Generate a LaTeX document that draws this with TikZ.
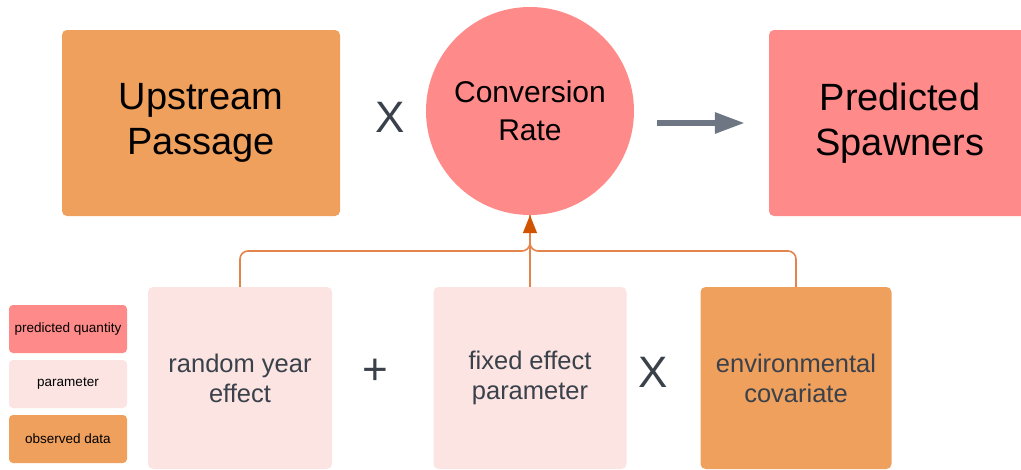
\documentclass[tikz,border=0pt]{standalone}
\usepackage{fontspec}
\setmainfont{Liberation Sans}
\usepackage{xcolor}
\usetikzlibrary{arrows.meta, positioning}

\definecolor{predpink}{HTML}{FF8A8A}
\definecolor{parampink}{HTML}{FBE4E2}
\definecolor{obsorange}{HTML}{EFA05D}
\definecolor{slategray}{HTML}{6E7583}
\definecolor{inktext}{HTML}{3A414A}
\definecolor{linkorange}{HTML}{E3844C}
\definecolor{tiporange}{HTML}{CF5300}

\begin{document}
\begin{tikzpicture}[
        x=1pt, y=-1pt, % pixel-like units, y grows downwards
        >=Stealth,
        box/.style={rectangle, rounded corners=5pt, inner sep=0pt, align=center},
        bigbox/.style={box, minimum width=#1, minimum height=186pt,
            font=\fontsize{38}{45}\selectfont},
        lowbox/.style={box, minimum width=#1, minimum height=182pt,
            text=inktext, font=\fontsize{25.5}{30}\selectfont},
        legbox/.style={box, minimum width=118pt, minimum height=48pt,
            rounded corners=4pt, font=\fontsize{13.5}{16}\selectfont},
        opsign/.style={inner sep=0pt, text=inktext, font=\fontsize{44}{44}\selectfont},
        link/.style={linkorange, line width=1.6pt},
    ]

    % --- FIGURE PARAMETERS ---
    \pgfmathsetmacro{\toprow}{123}
    \pgfmathsetmacro{\lowrow}{378}
    \pgfmathsetmacro{\busrow}{251}

    \clip (0,0) rectangle (1021,469);

    % Top row: passage x conversion -> spawners
    \node[bigbox=278pt, fill=obsorange] (upstream) at (201,\toprow)
        {Upstream\\Passage};
    \node[opsign] (timestop) at (390,117) {X};
    \node[circle, fill=predpink, minimum size=208pt, inner sep=0pt, align=center,
        font=\fontsize{30}{38}\selectfont] (convrate) at (530,111)
        {Conversion\\Rate};
    \node[bigbox=262pt, fill=predpink] (spawners) at (900,\toprow)
        {Predicted\\Spawners};

    \draw[slategray, line width=6pt, -{Triangle[length=30pt,width=20pt]},
        shorten <=23pt, shorten >=24pt]
        (convrate.east |- spawners.west) -- (spawners.west);

    % Bottom row: linear predictor on the conversion rate
    \node[lowbox=184pt, fill=parampink] (yeareff) at (240,\lowrow)
        {random year\\effect};
    \node[opsign] (plussign) at (375,372) {+};
    \node[lowbox=193pt, fill=parampink] (fixedeff) at (530,\lowrow)
        {fixed effect\\parameter};
    \node[opsign] (timeslow) at (653,372) {X};
    \node[lowbox=191pt, fill=obsorange] (envcov) at (796,\lowrow)
        {environmental\\covariate};

    % Links up to the conversion rate
    \coordinate (junction) at (530,\busrow);
    \draw[link, rounded corners=8pt] (yeareff.north) |- (junction) -- (convrate.south);
    \draw[link, rounded corners=8pt] (envcov.north) |- (junction) -- (convrate.south);
    \draw[link, -{Triangle[length=18pt,width=14pt,color=tiporange]}]
        (fixedeff.north) -- (convrate.south);

    % Legend
    \node[legbox, fill=predpink] (legpred) at (68,329) {predicted quantity};
    \node[legbox, fill=parampink] (legparam) at (68,384) {parameter};
    \node[legbox, fill=obsorange] (legobs) at (68,439) {observed data};

\end{tikzpicture}
\end{document}
